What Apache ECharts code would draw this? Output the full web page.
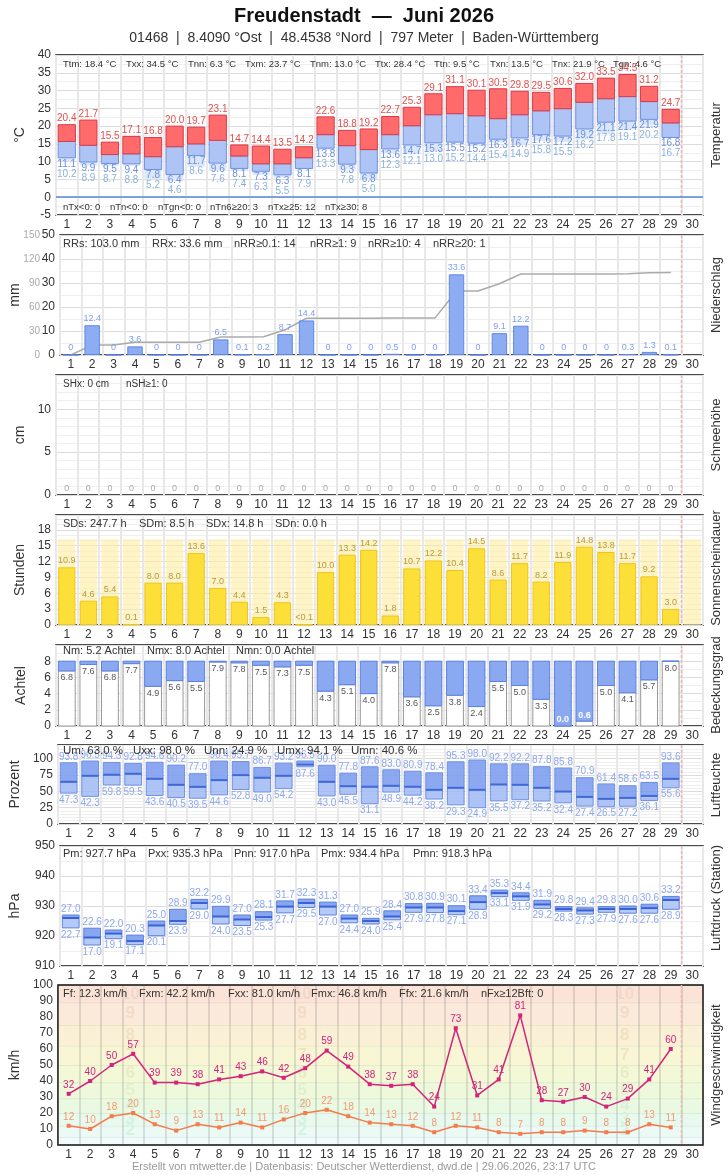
<!DOCTYPE html>
<html>
<head>
<meta charset="utf-8">
<script src="https://cdn.jsdelivr.net/npm/echarts@6/dist/echarts.min.js"></script>
<style>
html, body { margin: 0; padding: 0; background: #fff; }
#chart { width: 728px; height: 1175px; }
</style>
</head>
<body>
<div id="chart"></div>
<script>
// --- data (Juni 2026, Freudenstadt) ---
const days = ['1','2','3','4','5','6','7','8','9','10','11','12','13','14','15',
  '16','17','18','19','20','21','22','23','24','25','26','27','28','29','30'];

const tMax = [20.4,21.7,15.5,17.1,16.8,20.0,19.7,23.1,14.7,14.4,13.5,14.2,22.6,18.8,19.2,22.7,25.3,29.1,31.1,30.1,30.5,29.8,29.5,30.6,32.0,33.5,34.5,31.2,24.7];
const tMean = [15.7,14.6,12.0,12.2,11.4,14.2,15.0,16.0,11.6,9.4,9.4,11.1,17.6,14.5,13.4,17.6,20.1,23.2,23.5,22.9,22.1,23.2,24.3,24.9,26.7,27.7,28.3,26.9,20.9];
const tMin = [11.1,9.9,9.5,9.4,7.8,6.4,11.7,9.6,8.1,7.3,6.3,8.1,13.8,9.3,6.8,13.6,14.7,15.3,15.5,15.2,16.3,16.7,17.6,17.2,19.2,21.1,21.4,21.9,16.8];
const tGround = [10.2,8.9,8.7,8.8,5.2,4.6,8.6,7.6,7.4,6.3,5.5,7.9,13.3,7.8,5.0,12.3,12.1,13.0,15.2,14.4,15.4,14.9,15.8,15.5,16.2,17.8,19.1,20.2,16.7];

const precip = [0,12.4,0,3.6,0,0,0,6.5,0.1,0.2,8.7,14.4,0,0,0,0.5,0,0,33.6,0,9.1,12.2,0,0,0,0,0.3,1.3,0.1];
const precipSum = [0,12.4,12.4,16.0,16.0,16.0,16.0,22.5,22.6,22.8,31.5,45.9,45.9,45.9,45.9,46.4,46.4,46.4,80.0,80.0,89.1,101.3,101.3,101.3,101.3,101.3,101.6,102.9,103.0];

const snow = [0,0,0,0,0,0,0,0,0,0,0,0,0,0,0,0,0,0,0,0,0,0,0,0,0,0,0,0,0];

const sun = [10.9,4.6,5.4,0.1,8.0,8.0,13.6,7.0,4.4,1.5,4.3,0.04,10.0,13.3,14.2,1.8,10.7,12.2,10.4,14.5,8.6,11.7,8.2,11.9,14.8,13.8,11.7,9.2,3.0];
const sunPossible = [16.2,16.2,16.2,16.2,16.2,16.2,16.2,16.2,16.2,16.2,16.2,16.2,16.2,16.2,16.2,
  16.2,16.2,16.2,16.2,16.2,16.2,16.2,16.2,16.2,16.2,16.2,16.2,16.2,16.2,16.2];

const clouds = [6.8,7.6,6.8,7.7,4.9,5.6,5.5,7.9,7.8,7.5,7.3,7.5,4.3,5.1,4.0,7.8,3.6,2.5,3.8,2.4,5.5,5.0,3.3,0.0,0.6,5.0,4.1,5.7,8.0];

const humMax = [93.8,96.5,94.3,92.8,94.6,90.2,77.0,96.4,95.7,86.7,93.2,96.5,90.0,77.8,87.6,83.0,80.9,78.4,95.3,98.0,92.2,92.2,87.8,85.8,70.9,61.4,58.6,63.5,93.6];
const humMean = [64.6,73.8,75.4,76.9,69.2,60.0,56.9,67.2,74.9,70.8,73.8,91.0,64.6,57.9,57.0,58.5,57.0,52.3,55.4,52.3,60.5,60.0,55.4,49.7,41.5,38.5,40.0,43.0,69.2];
const humMin = [47.3,42.3,59.8,59.5,43.6,40.5,39.5,44.6,52.8,49.0,54.2,87.6,43.0,45.5,31.1,48.9,44.2,38.2,29.3,24.9,35.5,37.2,35.2,32.4,27.4,26.5,27.2,36.1,55.6];

const presMax = [927.0,922.6,922.0,920.3,925.0,928.9,932.2,929.9,927.0,928.1,931.7,932.3,931.3,927.0,925.9,928.4,930.8,930.9,930.1,933.4,935.3,934.4,931.9,929.8,929.4,929.8,930.0,930.6,933.2];
const presMean = [926.0,919.5,920.8,918.3,923.5,925.0,931.0,926.5,925.5,926.3,929.8,931.0,929.8,925.8,925.0,926.5,929.5,929.5,928.3,931.3,934.3,933.2,930.5,929.0,928.5,929.0,929.0,929.3,932.0];
const presMin = [922.7,917.0,919.1,917.1,920.1,923.9,929.0,924.0,923.5,925.3,927.7,929.5,927.0,924.4,924.0,925.4,927.9,927.8,927.1,928.9,933.1,931.9,929.2,928.3,927.3,927.9,927.6,927.6,928.9];

const windGust = [32,40,50,57,39,39,38,41,43,46,42,48,59,49,38,37,38,24,73,31,41,81,28,27,30,24,29,41,60];
const windMean = [12,10,18,20,13,9,13,11,14,11,16,20,22,18,14,13,12,8,12,11,8,7,8,8,9,8,8,13,11];

// Beaufort bands (km/h)
const bftEdges = [0,5,12,20,29,39,50,62,75,89,100];
const bftNames = ['2','3','4','5','6','7','8','9','10'];
const bftMid = [9,16,24.5,34,44.5,56,68.5,82,94];
const bftColumns = [3,11,26];

const todayIndex = 28;

// --- helpers ---
const FONT = 'Liberation Sans, Arial, sans-serif';

function txt(text, x, y, color, size, bold) {
  return {
    type: 'text',
    style: { text: text, x: x, y: y, fill: color, fontSize: size, fontFamily: FONT,
      fontWeight: bold ? 'bold' : 'normal', align: 'center', verticalAlign: 'middle' }
  };
}

function tempItem(params, api) {
  const i = api.value(0);
  const w = api.size([1, 0])[0] * 0.8;
  const pg = api.coord([i, api.value(1)]);
  const pn = api.coord([i, api.value(2)]);
  const pm = api.coord([i, api.value(3)]);
  const px = api.coord([i, api.value(4)]);
  const left = pn[0] - w / 2;
  return {
    type: 'group',
    children: [
      { type: 'rect', shape: { x: left, y: pn[1], width: w, height: Math.max(0, pg[1] - pn[1]) }, style: { fill: '#dae7f8' } },
      { type: 'rect', shape: { x: left, y: pm[1], width: w, height: pn[1] - pm[1] }, style: { fill: '#aec4f4', stroke: '#6e8fe2', lineWidth: 1 } },
      { type: 'rect', shape: { x: left, y: px[1], width: w, height: pm[1] - px[1] }, style: { fill: '#ff6b6b', stroke: '#d83a4a', lineWidth: 1 } },
      txt(api.value(4).toFixed(1), pn[0], px[1] - 6, '#e0524f', 10),
      txt(api.value(2).toFixed(1), pn[0], pn[1] + 6, '#6d8fe0', 10),
      txt(api.value(1).toFixed(1), pn[0], pn[1] + 16, '#8cb2dc', 10)
    ]
  };
}

function rangeItem(c, fmt) {
  return function (params, api) {
    const i = api.value(0);
    const w = api.size([1, 0])[0] * 0.78;
    const lo = api.coord([i, api.value(1)]);
    const mid = api.coord([i, api.value(2)]);
    const hi = api.coord([i, api.value(3)]);
    const left = lo[0] - w / 2;
    return {
      type: 'group',
      children: [
        { type: 'rect', shape: { x: left, y: mid[1], width: w, height: lo[1] - mid[1] }, style: { fill: c.low } },
        { type: 'rect', shape: { x: left, y: hi[1], width: w, height: mid[1] - hi[1] }, style: { fill: c.high } },
        { type: 'rect', shape: { x: left, y: hi[1], width: w, height: lo[1] - hi[1] }, style: { fill: 'none', stroke: c.border, lineWidth: 1 } },
        { type: 'line', shape: { x1: left, y1: mid[1], x2: left + w, y2: mid[1] }, style: { stroke: c.mean, lineWidth: 2 } },
        txt(fmt(api.value(3)), lo[0], hi[1] - 6, c.label, 10),
        txt(fmt(api.value(1)), lo[0], lo[1] + 7, c.label, 10)
      ]
    };
  };
}

function cloudItem(params, api) {
  const i = api.value(0);
  const v = api.value(1);
  const w = api.size([1, 0])[0] * 0.78;
  const p0 = api.coord([i, 0]);
  const pv = api.coord([i, v]);
  const p8 = api.coord([i, 8]);
  const left = p0[0] - w / 2;
  const small = v < 1;
  return {
    type: 'group',
    children: [
      { type: 'rect', shape: { x: left, y: pv[1], width: w, height: p0[1] - pv[1] }, style: { fill: '#fff', stroke: '#999', lineWidth: 1 } },
      { type: 'rect', shape: { x: left, y: p8[1], width: w, height: pv[1] - p8[1] }, style: { fill: '#8aa9f1', stroke: '#5b80e6', lineWidth: 1 } },
      txt(v.toFixed(1), p0[0], small ? pv[1] - 6 : pv[1] + 7, small ? '#fff' : '#555', 9, small)
    ]
  };
}

function todayLine(xIdx, yIdx, yVal) {
  return {
    type: 'custom', xAxisIndex: xIdx, yAxisIndex: yIdx, silent: true, z: 1,
    data: [[todayIndex, yVal]],
    renderItem: function (params, api) {
      const cs = params.coordSys;
      const x = api.coord([api.value(0), api.value(1)])[0] + api.size([1, 0])[0] / 2;
      return { type: 'line', shape: { x1: x, y1: cs.y, x2: x, y2: cs.y + cs.height },
        style: { stroke: '#f0b4b4', lineWidth: 1.5, lineDash: [3, 2] } };
    }
  };
}

// --- layout ---
const panels = [
  { top: 55, height: 160 },
  { top: 235, height: 120 },
  { top: 375, height: 120 },
  { top: 515, height: 110 },
  { top: 645, height: 81 },
  { top: 745, height: 79 },
  { top: 846, height: 120 },
  { top: 985, height: 160 }
];

const grids = panels.map(p => ({
  left: 56, right: 25, top: p.top, height: p.height,
  show: true, borderColor: '#111', borderWidth: 1.5, backgroundColor: 'transparent'
}));

const xAxes = panels.map((p, i) => ({
  type: 'category', gridIndex: i, data: days,
  axisLine: { show: false }, axisTick: { show: false },
  axisLabel: { color: '#333', fontSize: 12, fontFamily: FONT, margin: 4, interval: 0 },
  splitLine: { show: true, interval: 0,
    lineStyle: { color: i === 7 ? 'rgba(80,80,80,0.16)' : '#e8e8e8', width: 2 } }
}));

function yAx(grid, min, max, interval, name, gap, showLabel, minorN) {
  return {
    type: 'value', gridIndex: grid, min: min, max: max, interval: interval,
    name: name, nameLocation: 'middle', nameGap: gap,
    nameTextStyle: { color: '#333', fontSize: 14, fontFamily: FONT },
    axisLine: { show: false }, axisTick: { show: false },
    axisLabel: { color: '#333', fontSize: 12, fontFamily: FONT, margin: 5,
      formatter: v => (showLabel(v) ? String(v) : '') },
    splitLine: { show: true, lineStyle: { color: '#dcdcdc' } },
    minorTick: { show: false, splitNumber: minorN },
    minorSplitLine: { show: true, lineStyle: { color: '#efefef' } }
  };
}

const yAxes = [
  yAx(0, -5, 40, 5, '°C', 28, v => true, 2),
  yAx(1, 0, 50, 10, 'mm', 38, v => true, 2),
  {
    type: 'value', gridIndex: 1, min: 0, max: 150, interval: 30, position: 'left', offset: 16,
    axisLine: { show: false }, axisTick: { show: false }, splitLine: { show: false },
    axisLabel: { color: '#aaa', fontSize: 10, fontFamily: FONT, margin: 4 }
  },
  yAx(2, 0, 14, 5, 'cm', 28, v => v % 5 === 0, 5),
  yAx(3, 0, 20.8, 3, 'Stunden', 28, v => v % 3 === 0, 3),
  yAx(4, 0, 10, 2, 'Achtel', 28, v => v <= 8, 2),
  yAx(5, 0, 121, 25, 'Prozent', 28, v => v % 25 === 0, 5),
  yAx(6, 910, 950, 10, 'hPa', 38, v => true, 2),
  yAx(7, 0, 100, 10, 'km/h', 28, v => true, 2)
];
yAxes[8].splitLine = { show: false };
yAxes[8].minorSplitLine = { show: false };

// --- series ---
const series = [];

// Temperatur
series.push({
  type: 'custom', xAxisIndex: 0, yAxisIndex: 0, z: 3,
  data: tMax.map((v, i) => [i, tGround[i], tMin[i], tMean[i], v]),
  encode: { x: 0, y: [1, 2, 3, 4] },
  renderItem: tempItem,
  markLine: { silent: true, symbol: 'none', label: { show: false },
    lineStyle: { color: '#5b86d6', width: 1.5, type: 'solid' }, data: [{ yAxis: 0 }] }
});

// Niederschlag
series.push({
  type: 'line', xAxisIndex: 1, yAxisIndex: 2, data: precipSum, z: 1,
  symbol: 'none', lineStyle: { color: '#aaa', width: 1.5 }
});
series.push({
  type: 'bar', xAxisIndex: 1, yAxisIndex: 1, data: precip, barWidth: '72%', z: 3,
  itemStyle: { color: '#8dacf2', borderColor: '#5d87e8', borderWidth: 1 },
  label: { show: true, position: 'top', distance: 2, color: '#7f9fee', fontSize: 9, fontFamily: FONT,
    formatter: p => (p.value === 0 ? '0' : p.value.toFixed(1)) }
});

// Schnee
series.push({
  type: 'bar', xAxisIndex: 2, yAxisIndex: 3, data: snow, barWidth: '72%',
  itemStyle: { color: '#ccc' },
  label: { show: true, position: 'top', distance: 2, color: '#aaa', fontSize: 9, fontFamily: FONT }
});

// Sonne
series.push({
  type: 'bar', xAxisIndex: 3, yAxisIndex: 4, data: sunPossible, barWidth: '80%', silent: true,
  itemStyle: { color: 'rgba(253,236,160,0.6)' }
});
series.push({
  type: 'bar', xAxisIndex: 3, yAxisIndex: 4, data: sun, barWidth: '80%', barGap: '-100%',
  itemStyle: { color: '#fddf3a', borderColor: '#f2c418', borderWidth: 1 },
  label: { show: true, position: 'top', distance: 2, color: '#b89a3c', fontSize: 9, fontFamily: FONT,
    formatter: p => (p.value < 0.05 ? '<0.1' : p.value.toFixed(1)) }
});

// Bedeckung
series.push({
  type: 'custom', xAxisIndex: 4, yAxisIndex: 5, z: 3,
  data: clouds.map((v, i) => [i, v]),
  renderItem: cloudItem
});

// Luftfeuchte
series.push({
  type: 'custom', xAxisIndex: 5, yAxisIndex: 6, z: 3,
  data: humMax.map((v, i) => [i, humMin[i], humMean[i], v]),
  encode: { x: 0, y: [1, 2, 3] },
  renderItem: rangeItem({ low: 'rgba(160,186,244,0.85)', high: 'rgba(126,158,238,0.9)', border: '#6f90e6',
    mean: '#3f68d8', label: '#8ea8ee' }, v => v.toFixed(1))
});

// Luftdruck
series.push({
  type: 'custom', xAxisIndex: 6, yAxisIndex: 7, z: 3,
  data: presMax.map((v, i) => [i, presMin[i], presMean[i], v]),
  encode: { x: 0, y: [1, 2, 3] },
  renderItem: rangeItem({ low: 'rgba(172,196,246,0.9)', high: 'rgba(130,162,240,0.95)', border: '#5b80e0',
    mean: '#3a62d6', label: '#8ea8ee' }, v => (v - 900).toFixed(1))
});

// Wind: Beaufort-Bänder
series.push({
  type: 'custom', xAxisIndex: 7, yAxisIndex: 8, z: -1, silent: true,
  data: bftEdges.slice(0, -1).map((v, i) => [0, v, bftEdges[i + 1], i]),
  renderItem: function (params, api) {
    const colors = ['#f2fbfb', '#ebfaf5', '#e8f9ee', '#e9f9e2', '#eef9dc', '#f3f8d7', '#f8f6d5', '#faf0d5', '#fbe9da', '#fbe3d8'];
    const cs = params.coordSys;
    const lo = api.coord([0, api.value(1)])[1];
    const hi = api.coord([0, api.value(2)])[1];
    return {
      type: 'group',
      children: [
        { type: 'rect', shape: { x: cs.x, y: hi, width: cs.width, height: lo - hi }, style: { fill: colors[api.value(3)] } },
        { type: 'line', shape: { x1: cs.x, y1: hi, x2: cs.x + cs.width, y2: hi }, style: { stroke: 'rgba(120,140,90,0.25)', lineWidth: 1 } }
      ]
    };
  }
});
series.push({
  type: 'custom', xAxisIndex: 7, yAxisIndex: 8, z: 1, silent: true,
  data: bftNames.map((n, i) => [i, bftMid[i]]),
  renderItem: function (params, api) {
    const colors = ['#d3f2e2', '#d3f2e2', '#d6f1d8', '#e1f0cc', '#e8ebc6', '#ece6c2', '#efe2c4', '#f2dcc8', '#f2d8ca'];
    const k = api.value(0);
    return {
      type: 'group',
      children: bftColumns.map(c => {
        const p = api.coord([c, api.value(1)]);
        return txt(bftNames[k], p[0] - 3, p[1], colors[k], 17, true);
      })
    };
  }
});
series.push({
  type: 'line', xAxisIndex: 7, yAxisIndex: 8, data: windGust, z: 4,
  symbol: 'rect', symbolSize: 4, itemStyle: { color: '#d4237a' },
  lineStyle: { color: '#d4237a', width: 1.5 },
  label: { show: true, position: 'top', distance: 2, color: '#d4237a', fontSize: 10, fontFamily: FONT }
});
series.push({
  type: 'line', xAxisIndex: 7, yAxisIndex: 8, data: windMean, z: 4,
  symbol: 'rect', symbolSize: 4, itemStyle: { color: '#f47c4c' },
  lineStyle: { color: '#f47c4c', width: 1.5 },
  label: { show: true, position: 'top', distance: 2, color: '#f59a70', fontSize: 10, fontFamily: FONT }
});

// Heute-Markierung
[[0, 0, 0], [1, 1, 0], [2, 3, 0], [3, 4, 0], [4, 5, 0], [5, 6, 0], [6, 7, 920], [7, 8, 0]]
  .forEach(a => series.push(todayLine(a[0], a[1], a[2])));

// --- texts ---
function stats(items, y, size) {
  return items.map(it => ({
    type: 'text', left: it[1], top: y - size / 2 - 1, silent: true, z: 100,
    style: { text: it[0], fill: '#333', fontSize: size, fontFamily: FONT }
  }));
}

function sideTitle(text, y) {
  return { type: 'text', x: 716, y: y, rotation: Math.PI / 2, silent: true, z: 100,
    style: { text: text, fill: '#333', fontSize: 13, fontFamily: FONT, align: 'center', verticalAlign: 'middle' } };
}

const graphics = [].concat(
  [
    { type: 'text', left: 'center', top: 6, z: 100, style: { text: 'Freudenstadt  —  Juni 2026', fill: '#111', fontSize: 20, fontWeight: 'bold', fontFamily: FONT } },
    { type: 'text', left: 'center', top: 31, z: 100, style: { text: '01468  |  8.4090 °Ost  |  48.4538 °Nord  |  797 Meter  |  Baden-Württemberg', fill: '#333', fontSize: 14, fontFamily: FONT } },
    { type: 'text', left: 'center', top: 1161, z: 100, style: { text: 'Erstellt von mtwetter.de | Datenbasis: Deutscher Wetterdienst, dwd.de | 29.06.2026, 23:17 UTC', fill: '#999', fontSize: 11, fontFamily: FONT } }
  ],
  stats([['Ttm: 18.4 °C', 63], ['Txx: 34.5 °C', 126], ['Tnn: 6.3 °C', 188], ['Txm: 23.7 °C', 245], ['Tnm: 13.0 °C', 310],
    ['Ttx: 28.4 °C', 375], ['Ttn: 9.5 °C', 434], ['Txn: 13.5 °C', 490], ['Tnx: 21.9 °C', 552], ['Tgn: 4.6 °C', 613]], 65, 9.5),
  stats([['nTx<0: 0', 63], ['nTn<0: 0', 110], ['nTgn<0: 0', 158], ['nTn6≥20: 3', 210], ['nTx≥25: 12', 268], ['nTx≥30: 8', 325]], 208, 9.5),
  stats([['RRs: 103.0 mm', 63], ['RRx: 33.6 mm', 152], ['nRR≥0.1: 14', 234], ['nRR≥1: 9', 310], ['nRR≥10: 4', 368], ['nRR≥20: 1', 433]], 245, 11),
  stats([['SHx: 0 cm', 63], ['nSH≥1: 0', 126]], 385, 10),
  stats([['SDs: 247.7 h', 63], ['SDm: 8.5 h', 139], ['SDx: 14.8 h', 206], ['SDn: 0.0 h', 275]], 525, 11),
  stats([['Nm: 5.2 Achtel', 63], ['Nmx: 8.0 Achtel', 147], ['Nmn: 0.0 Achtel', 236]], 652, 11),
  stats([['Um: 63.0 %', 63], ['Uxx: 98.0 %', 133], ['Unn: 24.9 %', 204], ['Umx: 94.1 %', 277], ['Umn: 40.6 %', 351]], 752, 11.5),
  stats([['Pm: 927.7 hPa', 63], ['Pxx: 935.3 hPa', 148], ['Pnn: 917.0 hPa', 234], ['Pmx: 934.4 hPa', 321], ['Pmn: 918.3 hPa', 413]], 855, 11),
  stats([['Ff: 12.3 km/h', 63], ['Fxm: 42.2 km/h', 139], ['Fxx: 81.0 km/h', 228], ['Fmx: 46.8 km/h', 311], ['Ffx: 21.6 km/h', 399], ['nFx≥12Bft: 0', 481]], 995, 11),
  [
    sideTitle('Temperatur', 135),
    sideTitle('Niederschlag', 295),
    sideTitle('Schneehöhe', 435),
    sideTitle('Sonnenscheindauer', 568),
    sideTitle('Bedeckungsgrad', 685),
    sideTitle('Luftfeuchte', 785),
    sideTitle('Luftdruck (Station)', 898),
    sideTitle('Windgeschwindigkeit', 1065)
  ]
);

const chart = echarts.init(document.getElementById('chart'));
chart.setOption({
  animation: false,
  backgroundColor: '#fff',
  textStyle: { fontFamily: FONT },
  grid: grids,
  xAxis: xAxes,
  yAxis: yAxes,
  series: series,
  graphic: graphics
});
</script>
</body>
</html>
